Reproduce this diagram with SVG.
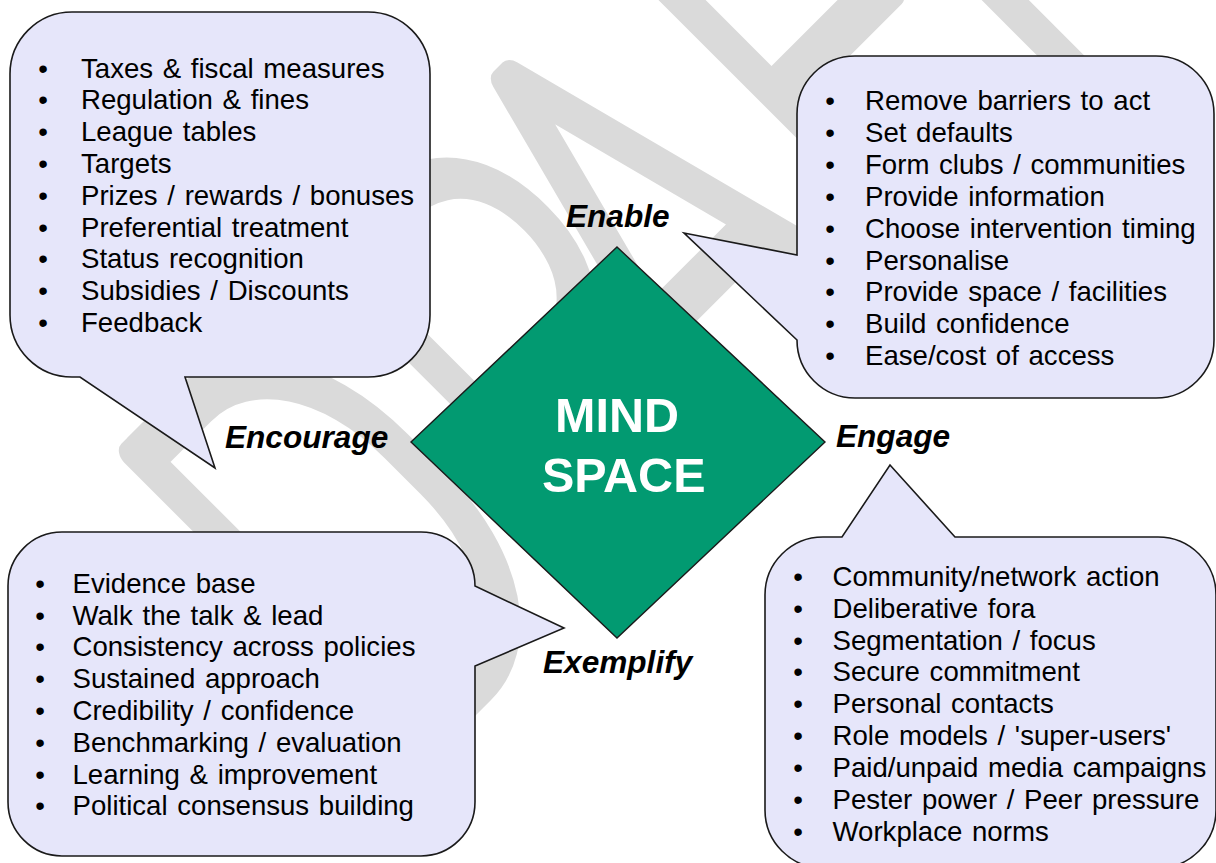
<svg xmlns="http://www.w3.org/2000/svg" width="1216" height="863" viewBox="0 0 1216 863">
<style>
.bubble{fill:#E6E6FA;stroke:#1a1a1a;stroke-width:1.6;stroke-linejoin:miter}
.item{font-family:"Liberation Sans",Arial,sans-serif;font-size:27.6px;fill:#000;word-spacing:2px}
.bul{font-family:"Liberation Sans",Arial,sans-serif;font-size:27.6px;fill:#000;text-anchor:middle}
.lbl{font-family:"Liberation Sans",Arial,sans-serif;font-size:31.6px;font-weight:bold;font-style:italic;fill:#000}
.core{font-family:"Liberation Sans",Arial,sans-serif;font-size:48.5px;font-weight:bold;fill:#fff}
.wm{font-family:Roboto,"Liberation Sans",sans-serif;font-weight:100;font-size:577px;fill:#dadada;stroke:#dadada;stroke-width:28px;stroke-linejoin:round;vector-effect:non-scaling-stroke}
</style>
<rect width="1216" height="863" fill="#fff"/>
<g id="watermark">
<text class="wm" transform="rotate(-45) scale(0.7,1)" x="-382 8 263 625 843" y="826">DRAFT</text>
</g>
<g id="encourage">
<path class="bubble" d="M72,12 H368 A62 62 0 0 1 430 74 V315 A62 62 0 0 1 368 377 H185 L215 468 L80 377 H72 A62 62 0 0 1 10 315 V74 A62 62 0 0 1 72 12 Z"/>
<g class="bul"><text x="43" y="77.5">•</text><text x="43" y="109.3">•</text><text x="43" y="141.1">•</text><text x="43" y="172.9">•</text><text x="43" y="204.7">•</text><text x="43" y="236.5">•</text><text x="43" y="268.3">•</text><text x="43" y="300.1">•</text><text x="43" y="331.9">•</text></g>
<g class="item"><text x="81" y="77.5">Taxes &amp; fiscal measures</text><text x="81" y="109.3">Regulation &amp; fines</text><text x="81" y="141.1">League tables</text><text x="81" y="172.9">Targets</text><text x="81" y="204.7">Prizes / rewards / bonuses</text><text x="81" y="236.5">Preferential treatment</text><text x="81" y="268.3">Status recognition</text><text x="81" y="300.1">Subsidies / Discounts</text><text x="81" y="331.9">Feedback</text></g>
<text class="lbl" x="225" y="448">Encourage</text>
</g>
<g id="enable">
<path class="bubble" d="M855,56 H1156 A58 58 0 0 1 1214 114 V340 A58 58 0 0 1 1156 398 H855 A58 58 0 0 1 797 340 L684 233 L797 255 V114 A58 58 0 0 1 855 56 Z"/>
<g class="bul"><text x="830" y="110">•</text><text x="830" y="141.9">•</text><text x="830" y="173.8">•</text><text x="830" y="205.7">•</text><text x="830" y="237.6">•</text><text x="830" y="269.5">•</text><text x="830" y="301.4">•</text><text x="830" y="333.3">•</text><text x="830" y="365.2">•</text></g>
<g class="item"><text x="865" y="110">Remove barriers to act</text><text x="865" y="141.9">Set defaults</text><text x="865" y="173.8">Form clubs / communities</text><text x="865" y="205.7">Provide information</text><text x="865" y="237.6">Choose intervention timing</text><text x="865" y="269.5">Personalise</text><text x="865" y="301.4">Provide space / facilities</text><text x="865" y="333.3">Build confidence</text><text x="865" y="365.2">Ease/cost of access</text></g>
<text class="lbl" x="566" y="227">Enable</text>
</g>
<g id="engage">
<path class="bubble" d="M823,537 H842 L890 465 L955 537 H1158 A58 58 0 0 1 1216 595 V810 A58 58 0 0 1 1158 868 H823 A58 58 0 0 1 765 810 V595 A58 58 0 0 1 823 537 Z"/>
<g class="bul"><text x="798" y="585.7">•</text><text x="798" y="617.6">•</text><text x="798" y="649.5">•</text><text x="798" y="681.4">•</text><text x="798" y="713.3">•</text><text x="798" y="745.2">•</text><text x="798" y="777.1">•</text><text x="798" y="809">•</text><text x="798" y="840.9">•</text></g>
<g class="item"><text x="832.5" y="585.7">Community/network action</text><text x="832.5" y="617.6">Deliberative fora</text><text x="832.5" y="649.5">Segmentation / focus</text><text x="832.5" y="681.4">Secure commitment</text><text x="832.5" y="713.3">Personal contacts</text><text x="832.5" y="745.2">Role models / 'super-users'</text><text x="832.5" y="777.1">Paid/unpaid media campaigns</text><text x="832.5" y="809">Pester power / Peer pressure</text><text x="832.5" y="840.9">Workplace norms</text></g>
<text class="lbl" x="836" y="447">Engage</text>
</g>
<g id="exemplify">
<path class="bubble" d="M62,532 H421 A54 54 0 0 1 475 586 L564 628 L475 666 V802 A54 54 0 0 1 421 856 H62 A54 54 0 0 1 8 802 V586 A54 54 0 0 1 62 532 Z"/>
<g class="bul"><text x="40" y="592.7">•</text><text x="40" y="624.5">•</text><text x="40" y="656.3">•</text><text x="40" y="688.1">•</text><text x="40" y="719.9">•</text><text x="40" y="751.7">•</text><text x="40" y="783.5">•</text><text x="40" y="815.3">•</text></g>
<g class="item"><text x="72.5" y="592.7">Evidence base</text><text x="72.5" y="624.5">Walk the talk &amp; lead</text><text x="72.5" y="656.3">Consistency across policies</text><text x="72.5" y="688.1">Sustained approach</text><text x="72.5" y="719.9">Credibility / confidence</text><text x="72.5" y="751.7">Benchmarking / evaluation</text><text x="72.5" y="783.5">Learning &amp; improvement</text><text x="72.5" y="815.3">Political consensus building</text></g>
<text class="lbl" x="543" y="673">Exemplify</text>
</g>
<g id="mindspace">
<polygon points="617,247 825,442 617,638 411,442" fill="#029A71" stroke="#1a1a1a" stroke-width="1.4"/>
<text class="core" x="555" y="432">MIND</text>
<text class="core" x="542" y="492">SPACE</text>
</g>
</svg>
